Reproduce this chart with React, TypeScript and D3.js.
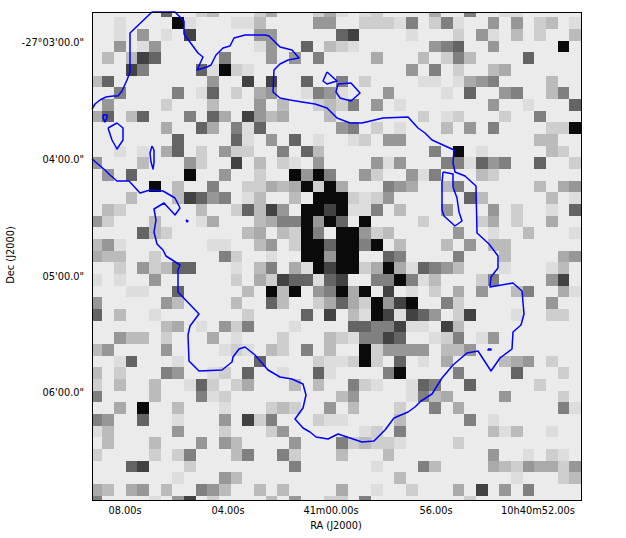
import React from "react";
import * as d3 from "d3";

const width = 626, height = 538;
const nCols = 42;
// Each row lists only the non-background cells as "column:level"; level 1 (light) to 9 (black).
const cellRows: string[] = [
  "6:7 9:2 10:3 14:2 15:4 19:2 20:4 21:1 23:1 24:2 29:4 32:6 35:1 36:1",
  "2:1 7:9 8:1 12:1 13:1 14:3 19:5 20:5 23:2 24:2 25:2 26:1 27:6 29:2 30:6 31:1 34:5 36:5 38:2 39:3 41:1",
  "2:1 4:5 6:1 8:8 14:5 15:5 21:7 22:8 27:1 31:2 33:5 34:1 36:3 38:2 41:3",
  "2:5 4:1 5:5 14:1 15:5 18:7 20:3 21:2 22:1 29:5 30:6 31:7 34:5 40:9",
  "1:3 3:3 4:8 5:7 11:6 15:5 17:5 19:6 24:4 28:3 30:2 31:6 32:3 37:7",
  "3:8 4:6 9:7 10:1 11:9 12:2 13:1 27:5 29:6 31:2 34:3 35:4",
  "0:3 1:7 10:5 13:8 15:8 18:7 21:6 23:2 28:1 29:1 31:1 32:4 33:5 34:6 39:3",
  "2:6 7:6 9:1 10:7 12:2 14:4 15:5 18:1 19:6 20:5 21:1 25:5 30:1 32:7 35:5 36:6 39:3 40:6",
  "1:5 6:2 10:3 14:5 16:3 19:2 20:3 21:2 22:6 24:5 26:1 34:5 37:1 41:7",
  "0:4 1:7 3:3 4:7 8:6 10:7 11:4 13:8 14:5 15:3 16:4 20:3 28:2 30:1 31:2 35:2 38:6",
  "6:4 9:7 10:4 12:6 13:1 14:7 21:5 22:6 24:2 26:1 30:3 32:5 34:6 39:2 40:2 41:9",
  "7:7 12:7 13:1 15:5 17:7 19:1 22:1 23:2 25:5 26:5 38:3 39:3",
  "2:1 4:1 6:4 7:7 9:2 11:5 12:2 13:2 16:6 18:7 19:3 29:6 31:9 33:1 39:3 40:2",
  "0:5 4:3 8:5 9:2 12:8 14:3 16:2 17:1 19:5 24:5 25:1 26:5 30:6 31:6 32:1 33:7 34:5 35:6 38:7 41:2",
  "1:5 3:7 8:9 11:5 14:2 17:9 18:5 19:9 20:6 23:5 24:2 27:5 28:1 29:6 33:3 34:2",
  "5:9 7:3 10:6 13:2 14:2 15:4 16:3 17:4 18:9 19:2 20:9 21:4 25:6 26:5 27:4 30:3 31:6 38:3 40:4 41:5",
  "3:3 7:3 8:8 9:7 10:5 11:6 13:1 14:3 17:3 19:9 20:9 21:9 22:2 23:1 24:2 25:5 32:7 33:3 39:3 41:1",
  "1:3 2:2 9:3 12:2 13:7 14:3 15:8 16:5 18:9 19:9 20:8 21:9 22:1 23:1 24:6 26:3 30:5 34:5 36:2 39:1 41:7",
  "0:5 1:2 5:3 9:1 10:4 14:3 15:4 16:6 17:6 18:9 19:5 20:9 21:7 23:9 28:2 33:2 34:4 36:2 39:4",
  "4:7 5:3 6:2 13:3 14:4 16:3 17:2 18:9 19:6 21:9 22:9 23:5 24:2 25:3 31:5 34:1 37:3 41:1",
  "0:3 1:5 2:1 10:1 11:1 14:3 15:5 17:2 18:9 19:9 20:7 21:9 22:9 23:6 24:9 26:3 30:3 32:5 34:3 35:3",
  "0:4 1:3 2:3 5:2 11:6 12:2 15:1 18:9 19:9 20:5 21:9 22:9 25:7 26:6 31:6 35:3 40:4 41:5",
  "2:2 4:5 5:2 6:3 7:7 8:7 12:1 14:3 15:6 17:4 18:1 19:9 20:8 21:9 22:9 23:2 24:4 25:9 26:4 27:1 28:7 29:6 30:5 31:3 35:1 39:1 40:3",
  "0:1 2:1 5:5 12:2 14:4 15:2 16:8 17:7 18:7 19:1 20:7 21:8 24:6 25:6 26:9 27:6 28:1 29:3 33:2 34:6 39:5 40:8",
  "3:1 4:1 7:7 13:3 15:9 16:3 17:9 19:5 20:6 21:9 22:4 23:9 25:8 27:1 29:2 31:4 33:5 36:3 37:6 40:4 41:1",
  "0:5 6:5 7:3 12:3 15:7 16:3 19:2 20:4 21:7 22:4 23:2 24:9 25:5 26:8 27:9 30:6 31:2 39:5",
  "0:7 2:3 5:1 13:2 18:7 20:8 22:3 23:1 24:9 25:8 26:1 27:8 28:7 29:5 31:2 32:8 36:1 39:2 40:2",
  "6:3 7:4 9:1 11:5 12:2 13:6 17:1 22:7 23:7 24:6 25:6 26:8 27:1 28:1 30:8 31:3",
  "2:5 3:3 4:3 6:2 10:4 12:1 16:2 20:3 21:2 22:1 23:6 24:6 25:8 26:7 29:1 30:2 31:6 33:1 34:5",
  "0:3 1:5 6:5 11:1 12:2 13:1 15:3 16:2 18:6 20:3 23:9 24:2 25:5 26:5 27:5 28:5 30:3 31:3 32:5",
  "2:1 3:7 7:1 14:7 19:2 20:1 21:1 22:2 23:9 24:2 26:7 28:1 30:4 35:3 36:4 37:5 39:2",
  "0:3 2:2 6:6 7:5 10:1 11:2 13:7 16:1 19:7 20:1 25:6 26:9 31:6 36:7 40:2",
  "0:2 2:3 5:3 8:1 9:7 10:2 12:2 13:4 17:3 19:3 22:6 23:2 24:1 27:1 28:7 29:6 32:7 38:2",
  "0:6 5:3 9:6 10:1 11:2 21:3 22:5 27:1 28:6 29:3 30:4 35:5 40:2",
  "2:4 4:9 7:3 11:1 15:2 16:3 17:2 20:5 22:3 26:2 29:6 31:4 40:6 41:1",
  "0:6 1:5 4:7 7:1 11:5 13:8 14:2 15:6 19:2 20:1 21:1 26:3 32:6 34:1",
  "0:1 1:3 7:5 11:2 15:2 16:5 23:1 24:2 26:6 34:3 35:1 36:3 39:1",
  "1:3 5:3 9:5 11:5 12:3 17:5 21:6 22:2 23:3 24:2 25:2 26:1 31:2",
  "0:2 5:2 7:2 8:6 12:3 13:6 16:6 17:2 21:3 25:3 34:5 37:1 39:2 40:1",
  "3:7 4:8 8:2 17:6 24:1 28:6 29:3 34:4 35:3 36:2 37:5 38:4 39:4 40:2 41:5",
  "7:1 11:5 12:3 26:3 36:1 40:2 41:3",
  "0:4 1:3 3:4 4:5 6:3 9:6 10:5 11:3 14:3 16:3 21:4 24:1 27:2 31:4 33:8 35:5 37:6",
  "0:6 5:1 7:5 8:8 10:2 15:3 17:5 20:2 21:2 23:6 32:2",
];
const levelGrays = [235, 221, 206, 187, 170, 151, 128, 100, 66, 10];

// Contours, as offsets from the field's left and top edges.
const contourWest: [number, number][] = [
  [0,97],[3,92],[8,88],[14,85],[21,84],[26,84],[30,79],[35,68],[38,60],[38,21],[60,0],[83,0],[92,9],[92,22],[106,41],[111,45],[105,58],[115,55],[119,53],[124,43],[131,36],[138,34],[142,26],[153,23],[173,23],[177,24],[188,35],[200,38],[207,46],[196,48],[188,52],[182,58],[181,80],[188,86],[198,88],[210,90],[223,92],[235,96],[245,106],[258,111],[270,111],[291,106],[316,105],[326,116],[333,121],[340,128],[362,138],[361,151],[363,160],[373,164],[384,174],[385,221],[397,232],[406,244],[406,256],[399,265],[398,275],[421,271],[430,279],[432,302],[429,313],[421,320],[420,337],[408,346],[399,359],[386,339],[375,341],[361,353],[350,366],[340,382],[329,389],[323,395],[316,400],[302,406],[293,418],[282,429],[270,430],[246,422],[236,427],[224,425],[218,420],[211,416],[203,407],[211,396],[214,383],[211,372],[200,367],[188,365],[176,358],[163,343],[153,335],[147,337],[141,345],[140,350],[130,358],[107,359],[97,349],[96,323],[98,314],[107,302],[86,280],[86,258],[88,253],[74,244],[71,238],[65,232],[62,220],[64,208],[62,197],[72,191],[83,203],[88,196],[83,186],[71,179],[58,178],[48,181],[37,169],[25,169],[18,163],[13,158],[0,147],
];
const loopA: [number, number][] = [[11,103],[15,103],[15,106],[13,110],[11,106],[11,103]];
const loopB: [number, number][] = [[16,116],[25,111],[31,116],[31,128],[25,137],[20,128],[16,116]];
const loopC: [number, number][] = [[60,134],[62,138],[62,151],[61,157],[59,150],[58,141],[60,134]];
const loopD: [number, number][] = [[235,60],[245,69],[235,72],[231,69],[235,60]];
const loopE: [number, number][] = [[246,72],[259,71],[268,81],[259,89],[248,86],[244,80],[246,72]];
const loopF: [number, number][] = [[351,160],[361,162],[361,175],[365,186],[367,200],[370,209],[363,214],[352,204],[350,198],[350,171],[351,160]];
const loopG: [number, number][] = [[94,208],[96,209],[95,210],[94,208]];
const loopH: [number, number][] = [[396,337],[399,337],[399,338],[396,338],[396,337]];

const xTickLabels = ["08.00s", "04.00s", "41m00.00s", "56.00s", "10h40m52.00s"];
const xTickOffsets = [33, 136, 239, 344, 446];
const yTickLabels = ["-27°03'00.0\"", "04'00.0\"", "05'00.0\"", "06'00.0\""];
const yTickOffsets = [30, 147, 264, 380];

const x = d3.scaleLinear().domain([0, 489]).range([92, 581]);
const y = d3.scaleLinear().domain([0, 488]).range([12, 500]);
const cellX = d3.scaleLinear().domain([0, nCols]).range([-1.3, 489]);
const cellY = d3.scaleLinear().domain([0, 1]).range([-6.4, 5.27]);
const gray = (l: number) => `rgb(${levelGrays[l]},${levelGrays[l]},${levelGrays[l]})`;
const line = d3.line<[number, number]>().x((d) => x(d[0])).y((d) => y(d[1])).curve(d3.curveLinear);
const font = "'DejaVu Sans', sans-serif";

export default function App() {
  const rects: React.ReactNode[] = [];
  cellRows.forEach((row, r) => {
    row.split(" ").forEach((tok) => {
      const [c, l] = tok.split(":").map(Number);
      const x0 = Math.max(0, cellX(c));
      const x1 = cellX(c + 1);
      const y0 = Math.max(0, cellY(r));
      const y1 = Math.min(488, cellY(r + 1));
      rects.push(
        <rect key={`${r}-${c}`} x={x(x0)} y={y(y0)} width={x1 - x0} height={y1 - y0} fill={gray(l)} shapeRendering="crispEdges" />
      );
    });
  });
  const contours = [contourWest, loopA, loopB, loopC, loopD, loopE, loopF, loopG, loopH];
  return (
    <svg width={width} height={height} style={{ position: "absolute", left: 0, top: 0, background: "#fff" }}>
      <rect x={x(0)} y={y(0)} width={489} height={488} fill={gray(0)} />
      {rects}
      {contours.map((c, i) => (
        <path key={i} d={line(c) ?? ""} fill="none" stroke="#0000ff" strokeWidth={1.5} strokeLinejoin="round" />
      ))}
      <rect x={x(0)} y={y(0)} width={489} height={488} fill="none" stroke="#000" strokeWidth={1} shapeRendering="crispEdges" />
      <g fontFamily={font} fontSize={9.8} fill="#000">
        {xTickLabels.map((t, i) => (
          <text key={t} x={x(xTickOffsets[i])} y={514} textAnchor="middle">{t}</text>
        ))}
        {yTickLabels.map((t, i) => (
          <text key={t} x={84} y={y(yTickOffsets[i]) + 3.5} textAnchor="end">{t}</text>
        ))}
        <text x={336} y={529} textAnchor="middle">RA (J2000)</text>
        <text transform="translate(14,255) rotate(-90)" textAnchor="middle">Dec (J2000)</text>
      </g>
    </svg>
  );
}
